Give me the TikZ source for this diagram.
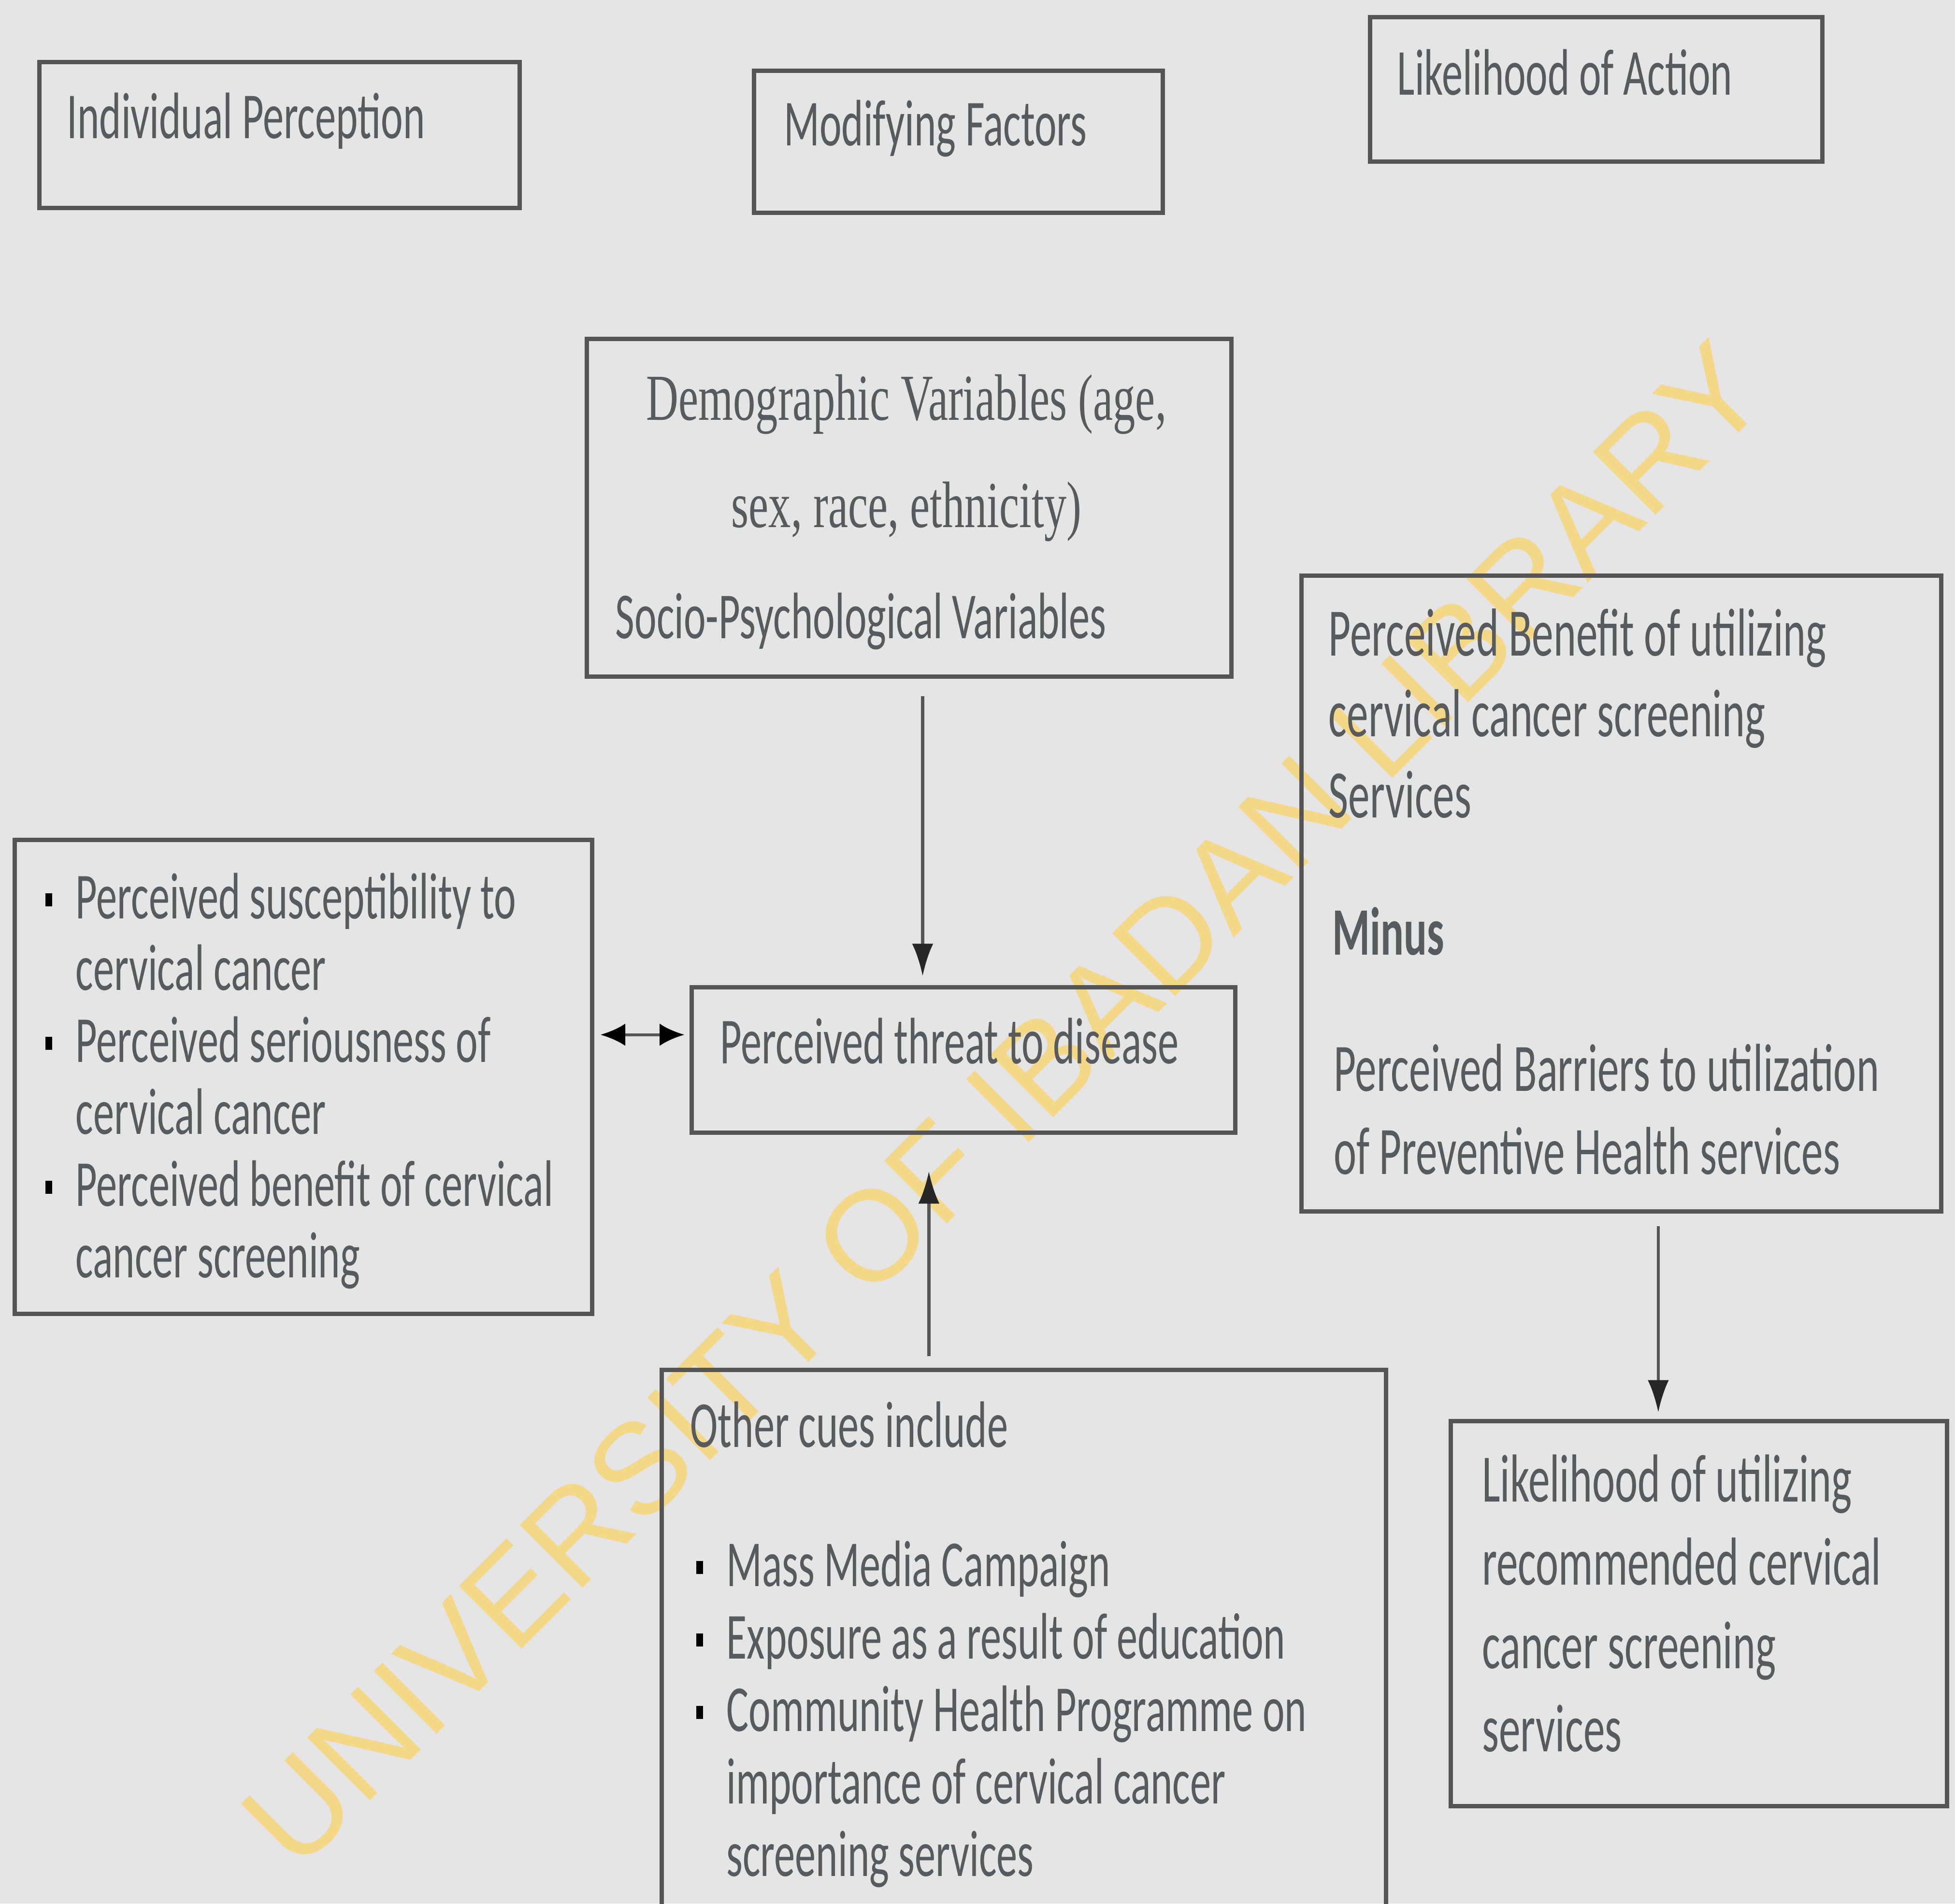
\documentclass[tikz,border=0pt]{standalone}
\usepackage{fontspec}
\setmainfont{Carlito}[FakeStretch=0.635]
\newfontfamily\demofont{Liberation Serif}[FakeStretch=0.68]
\newfontfamily\markfont{Liberation Sans}
\usetikzlibrary{arrows.meta}
\definecolor{paper}{RGB}{229,229,229}
\definecolor{ink}{RGB}{88,90,92}
\definecolor{edge}{RGB}{85,85,85}
\definecolor{wmark}{RGB}{243,216,135}
\tikzset{
  box/.style={draw=edge,line width=1pt,anchor=north west,inner sep=0pt},
  txt/.style={anchor=base west,inner sep=0pt,text=ink,align=left,
    font=\fontsize{15}{16.4}\selectfont},
  conn/.style={draw=edge,line width=0.7pt,-{Latex[length=2.6mm,width=1.7mm,color=black!85]}},
}
\newcommand{\blt}{\llap{\textcolor{black}{\rule[2.8pt]{1.5pt}{3pt}}\hspace{5.4pt}}}
\begin{document}
\begin{tikzpicture}
  \useasboundingbox (0,0) rectangle (15.68,-15.27);
  \fill[paper] (0,0) rectangle (15.68,-15.27);
  % watermark
  \node[rotate=45,text=wmark,inner sep=0pt,font=\markfont\fontsize{29.4}{29.4}\selectfont] (wm) at (8.05,-8.86) {UNIVERSITY OF IBADAN LIBRARY};
  % headings
  \node[box,minimum width=3.85cm,minimum height=1.17cm] (ip) at (0.30,-0.48) {};
  \node[txt] (ipt) at (0.53,-1.11) {Individual Perception};
  \node[box,minimum width=3.28cm,minimum height=1.14cm] (mf) at (6.03,-0.55) {};
  \node[txt] (mft) at (6.28,-1.17) {Modifying Factors};
  \node[box,minimum width=3.63cm,minimum height=1.16cm] (la) at (10.97,-0.12) {};
  \node[txt] (lat) at (11.20,-0.76) {Likelihood of Action};
  % modifying factors
  \node[box,minimum width=5.17cm,minimum height=2.71cm] (demo) at (4.69,-2.70) {};
  \node[txt,anchor=base,font=\demofont\fontsize{15}{16}\selectfont] (demo1) at (7.27,-3.37) {Demographic Variables (age,};
  \node[txt,anchor=base,font=\demofont\fontsize{15}{16}\selectfont] (demo2) at (7.27,-4.23) {sex, race, ethnicity)};
  \node[txt] (demo3) at (4.93,-5.12) {Socio-Psychological Variables};
  \node[box,minimum width=4.36cm,minimum height=1.17cm] (threat) at (5.53,-7.90) {};
  \node[txt] (threatt) at (5.77,-8.53) {Perceived threat to disease};
  \node[box,minimum width=5.81cm,minimum height=4.40cm] (cues) at (5.29,-10.97) {};
  \node[txt] (cues0) at (5.53,-11.61) {Other cues include};
  \node[txt,font=\fontsize{15}{16.55}\selectfont] (cues1) at (5.82,-15.05) {\blt Mass Media Campaign\\
    \blt Exposure as a result of education\\
    \blt Community Health Programme on\\
    importance of cervical cancer\\
    screening services};
  % individual perception
  \node[box,minimum width=4.63cm,minimum height=3.80cm] (perc) at (0.10,-6.72) {};
  \node[txt] (perct) at (0.60,-10.25) {\blt Perceived susceptibility to\\
    cervical cancer\\
    \blt Perceived seriousness of\\
    cervical cancer\\
    \blt Perceived benefit of cervical\\
    cancer screening};
  % likelihood of action
  \node[box,minimum width=5.13cm,minimum height=5.10cm] (ben) at (10.42,-4.60) {};
  \node[txt,font=\fontsize{15.5}{18.5}\selectfont] (ben1) at (10.65,-6.56) {Perceived Benefit of utilizing\\
    cervical cancer screening\\
    Services};
  \node[txt,font=\bfseries\fontsize{15.5}{18.5}\selectfont] (ben2) at (10.68,-7.66) {Minus};
  \node[txt,font=\fontsize{15.5}{19}\selectfont] (ben3) at (10.69,-9.42) {Perceived Barriers to utilization\\
    of Preventive Health services};
  \node[box,minimum width=3.98cm,minimum height=3.09cm] (lik) at (11.62,-11.38) {};
  \node[txt,font=\fontsize{15.5}{19}\selectfont] (likt) at (11.88,-14.05) {Likelihood of utilizing\\
    recommended cervical\\
    cancer screening\\
    services};
  % connectors
  \coordinate (ax1) at (7.40,0);
  \coordinate (ax2) at (7.45,0);
  \coordinate (ax3) at (13.30,0);
  \coordinate (ay1) at (0,-8.30);
  \draw[conn,shorten <=0.14cm,shorten >=0.07cm] (demo.south -| ax1) -- (threat.north -| ax1);
  \draw[conn,shorten <=0.09cm,shorten >=0.29cm] (cues.north -| ax2) -- (threat.south -| ax2);
  \draw[conn,{Latex[length=2mm,width=1.8mm,color=black]}-{Latex[length=2mm,width=1.8mm,color=black]},shorten <=0.05cm,shorten >=0.04cm] (perc.east |- ay1) -- (threat.west |- ay1);
  \draw[conn,shorten <=0.10cm,shorten >=0.05cm] (ben.south -| ax3) -- (lik.north -| ax3);
\end{tikzpicture}
\end{document}
